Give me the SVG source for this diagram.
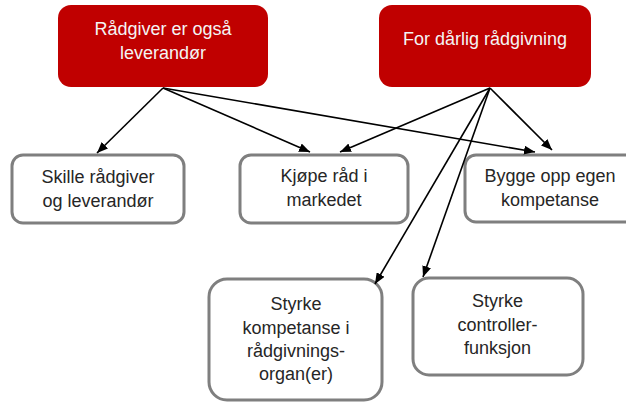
<svg xmlns="http://www.w3.org/2000/svg" width="626" height="403" viewBox="0 0 626 403">
  <defs>
    <style>
      .cause rect { fill: #c00000; stroke: none; }
      .cause text { fill: #f4f4f4; }
      .measure rect { fill: #ffffff; stroke: #7f7f7f; stroke-width: 3; }
      .measure text { fill: #262626; }
      text { font-family: "Liberation Sans", Arial, sans-serif; font-size: 18px; text-anchor: middle; }
      .links line { stroke: #000000; stroke-width: 1.6; marker-end: url(#arrow); }
    </style>
    <marker id="arrow" markerUnits="userSpaceOnUse" markerWidth="11" markerHeight="9" refX="11" refY="4.5" orient="auto">
      <path d="M0,0 L11,4.5 L0,9 z" fill="#000000"/>
    </marker>
  </defs>

  <rect width="626" height="403" fill="#ffffff"/>

  <!-- causes -->
  <g id="raadgiver-leverandoer" class="cause">
    <rect x="58" y="5" width="210" height="82" rx="13"/>
    <text x="163" y="34.5">Rådgiver er også</text>
    <text x="163" y="58.5">leverandør</text>
  </g>
  <g id="daarlig-raadgivning" class="cause">
    <rect x="379" y="5" width="212" height="82" rx="13"/>
    <text x="485" y="45">For dårlig rådgivning</text>
  </g>

  <!-- measures -->
  <g id="skille" class="measure">
    <rect x="12" y="155" width="172" height="68" rx="11"/>
    <text x="98" y="182.5">Skille rådgiver</text>
    <text x="98" y="206.5">og leverandør</text>
  </g>
  <g id="kjoepe-raad" class="measure">
    <rect x="240" y="155" width="168" height="68" rx="11"/>
    <text x="324" y="182">Kjøpe råd i</text>
    <text x="324" y="206">markedet</text>
  </g>
  <g id="bygge-kompetanse" class="measure">
    <rect x="465" y="155" width="172" height="67" rx="11"/>
    <text x="550" y="182">Bygge opp egen</text>
    <text x="550" y="206">kompetanse</text>
  </g>
  <g id="styrke-kompetanse" class="measure">
    <rect x="209" y="279" width="173" height="121" rx="18"/>
    <text x="296" y="310">Styrke</text>
    <text x="296" y="333.5">kompetanse i</text>
    <text x="296" y="357">rådgivnings-</text>
    <text x="296" y="380">organ(er)</text>
  </g>
  <g id="styrke-controller" class="measure">
    <rect x="413" y="278" width="170" height="97" rx="16"/>
    <text x="497.5" y="307">Styrke</text>
    <text x="497.5" y="330.5">controller-</text>
    <text x="497.5" y="354">funksjon</text>
  </g>

  <!-- connectors -->
  <g id="connectors" class="links">
    <line x1="163" y1="88" x2="97" y2="153"/>
    <line x1="163" y1="88" x2="310" y2="152"/>
    <line x1="163" y1="88" x2="535" y2="152"/>
    <line x1="490" y1="88" x2="340" y2="152"/>
    <line x1="490" y1="88" x2="552" y2="150"/>
    <line x1="490" y1="88" x2="375" y2="284"/>
    <line x1="490" y1="88" x2="423" y2="277"/>
  </g>
</svg>
